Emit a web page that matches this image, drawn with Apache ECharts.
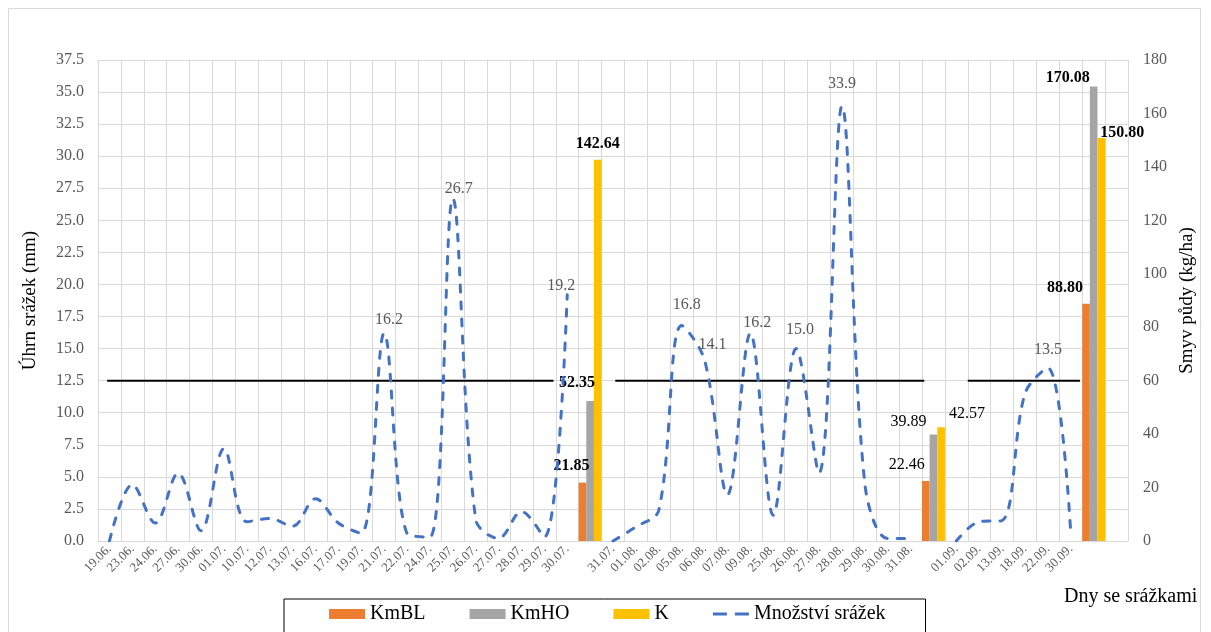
<!DOCTYPE html>
<html>
<head>
<meta charset="utf-8">
<title>Srážky a smyv půdy</title>
<script src="https://cdn.jsdelivr.net/npm/echarts@6/dist/echarts.min.js"></script>
<style>
  html, body { margin: 0; padding: 0; background: #ffffff; }
  #chart { width: 1211px; height: 632px; }
</style>
</head>
<body>
<div id="chart"></div>
<script>
// Rain days (blank slots hold the soil-loss bars of each period)
const categories = [
  '19.06.', '23.06.', '24.06.', '27.06.', '30.06.', '01.07.', '10.07.', '12.07.', '13.07.', '16.07.',
  '17.07.', '19.07.', '21.07.', '22.07.', '24.07.', '25.07.', '26.07.', '27.07.', '28.07.', '29.07.',
  '30.07.', '',
  '31.07.', '01.08.', '02.08.', '05.08.', '06.08.', '07.08.', '09.08.', '25.08.', '26.08.', '27.08.',
  '28.08.', '29.08.', '30.08.', '31.08.', '',
  '01.09.', '02.09.', '13.09.', '18.09.', '22.09.', '30.09.', '', ''
];

// Rainfall totals (mm)
const rainfall = [
  0, 4.4, 1.4, 5.3, 0.8, 7.2, 1.5, 1.75, 1.15, 3.3,
  1.4, 0.6, 16.2, 0.6, 0.3, 26.7, 1.7, 0.2, 2.3, 0.3,
  19.2, null,
  0, 1.1, 2.4, 16.8, 14.1, 3.6, 16.2, 2.0, 15.0, 5.3,
  33.9, 4.5, 0.2, 0.2, null,
  0, 1.5, 1.6, 11.5, 13.5, 0.6, null, null
];

// Soil loss (kg/ha) per period and variant
const soilLossKmBL = [21.85, 22.46, 88.80];
const soilLossKmHO = [52.35, 39.89, 170.08];
const soilLossK = [142.64, 42.57, 150.80];
// category slots where each period's bars stand
const barSlots = [21, 36, 43];

// Erosive rainfall threshold (mm) and the spans it is drawn over (in category units)
const rainThreshold = 12.5;
const thresholdSpans = [[0.4, 19.9], [22.6, 36.1], [38.0, 42.9]];

const leftTicks = { min: 0, max: 37.5, step: 2.5 };
const rightTicks = { min: 0, max: 180, step: 20 };

// ---- label placement (pixel nudges relative to the default 'top' spot) ----
const rainLabelShift = {
  12: [5, 0], 15: [6, 3], 20: [-6, 4], 25: [5, -8], 26: [8, -2],
  28: [7, 3], 30: [4, -6], 32: [0, -9], 41: [0, -5]
};
const barLabelShift = {
  KmBL: [[-11, -4], [-19, -3], [-21, -3]],
  KmHO: [[-13, -5], [-25, 0], [-26, 4]],
  K: [[0, -3], [26, 0], [21, 8]]
};
const barLabelWeight = ['bold', 'normal', 'bold'];

const FONT = "'Liberation Serif', 'Times New Roman', serif";

function barData(values, key) {
  const out = categories.map(() => null);
  values.forEach((v, i) => {
    out[barSlots[i]] = {
      value: v,
      label: { offset: barLabelShift[key][i], fontWeight: barLabelWeight[i] }
    };
  });
  return out;
}

const rainData = rainfall.map((v, i) => {
  const s = rainLabelShift[i];
  if (v === null) return null;
  if (!s) return { value: v, label: { show: false } };
  return { value: v, label: { show: true, offset: s } };
});

const thresholdSeries = thresholdSpans.map(span => ({
  type: 'line',
  xAxisIndex: 1,
  yAxisIndex: 0,
  symbol: 'none',
  silent: true,
  z: 1,
  lineStyle: { color: '#000000', width: 2 },
  data: span.map(x => [x, rainThreshold])
}));

const barLabel = {
  show: true,
  position: 'top',
  color: '#000000',
  fontFamily: FONT,
  fontSize: 16,
  formatter: p => p.value == null ? '' : Number(p.value).toFixed(2)
};

const option = {
  animation: false,
  backgroundColor: '#ffffff',
  textStyle: { fontFamily: FONT },
  grid: { left: 98, right: 83, top: 60, bottom: 91, containLabel: false },
  legend: {
    left: 284,
    top: 599,
    orient: 'horizontal',
    borderColor: '#000000',
    borderWidth: 1,
    padding: [5, 40, 30, 45],
    itemGap: 44,
    itemWidth: 36,
    itemHeight: 10,
    symbolKeepAspect: true,
    textStyle: { fontFamily: FONT, fontSize: 20, color: '#000000' },
    data: [
      { name: 'KmBL', icon: 'rect' },
      { name: 'KmHO', icon: 'rect' },
      { name: 'K', icon: 'rect' },
      { name: 'Množství srážek', icon: 'path://M0,0H14V3H0Z M22,0H36V3H22Z' }
    ]
  },
  xAxis: [
    {
      type: 'category',
      data: categories,
      boundaryGap: true,
      axisLine: { lineStyle: { color: '#d9d9d9', width: 1 } },
      axisTick: { show: false },
      axisLabel: {
        interval: 0,
        rotate: 45,
        fontFamily: FONT,
        fontSize: 13,
        color: '#595959',
        margin: 6
      },
      splitLine: { show: true, interval: 0, lineStyle: { color: '#d9d9d9', width: 1 } }
    },
    {
      type: 'value',
      min: 0,
      max: categories.length,
      show: false
    }
  ],
  yAxis: [
    {
      type: 'value',
      min: leftTicks.min,
      max: leftTicks.max,
      interval: leftTicks.step,
      name: 'Úhrn srážek (mm)',
      nameLocation: 'middle',
      nameGap: 58,
      nameTextStyle: { fontFamily: FONT, fontSize: 19, color: '#000000' },
      axisLine: { show: false },
      axisTick: { show: false },
      axisLabel: {
        fontFamily: FONT, fontSize: 16, color: '#595959', margin: 14,
        formatter: v => v.toFixed(1)
      },
      splitLine: { show: true, lineStyle: { color: '#d9d9d9', width: 1 } }
    },
    {
      type: 'value',
      min: rightTicks.min,
      max: rightTicks.max,
      interval: rightTicks.step,
      name: 'Smyv půdy (kg/ha)',
      nameLocation: 'middle',
      nameGap: 50,
      nameTextStyle: { fontFamily: FONT, fontSize: 19, color: '#000000' },
      axisLine: { show: false },
      axisTick: { show: false },
      axisLabel: { fontFamily: FONT, fontSize: 16, color: '#595959', margin: 15 },
      splitLine: { show: false }
    }
  ],
  series: [
    ...thresholdSeries,
    {
      name: 'KmBL',
      type: 'bar',
      yAxisIndex: 1,
      barGap: '0%',
      barCategoryGap: '0%',
      itemStyle: { color: '#ED7D31' },
      label: barLabel,
      data: barData(soilLossKmBL, 'KmBL'),
      z: 3
    },
    {
      name: 'KmHO',
      type: 'bar',
      yAxisIndex: 1,
      barGap: '0%',
      barCategoryGap: '0%',
      itemStyle: { color: '#A5A5A5' },
      label: barLabel,
      data: barData(soilLossKmHO, 'KmHO'),
      z: 3
    },
    {
      name: 'K',
      type: 'bar',
      yAxisIndex: 1,
      barGap: '0%',
      barCategoryGap: '0%',
      itemStyle: { color: '#FFC000' },
      label: barLabel,
      data: barData(soilLossK, 'K'),
      z: 3
    },
    {
      name: 'Množství srážek',
      type: 'line',
      yAxisIndex: 0,
      xAxisIndex: 0,
      symbol: 'circle',
      symbolSize: 0.1,
      showSymbol: true,
      smooth: 0.35,
      connectNulls: false,
      z: 4,
      itemStyle: { color: '#4472C4' },
      lineStyle: { color: '#4472C4', width: 3, type: [7, 10], cap: 'round' },
      label: {
        show: false,
        position: 'top',
        fontFamily: FONT,
        fontSize: 16,
        color: '#595959',
        formatter: p => Number(p.value).toFixed(1)
      },
      data: rainData
    }
  ],
  graphic: [
    {
      type: 'rect',
      silent: true,
      z: -10,
      shape: { x: 8.5, y: 8.5, width: 1192, height: 640 },
      style: { fill: null, stroke: '#d9d9d9', lineWidth: 1 }
    },
    {
      type: 'text',
      left: 1064,
      top: 587,
      style: { text: 'Dny se srážkami', font: "20px 'Liberation Serif', 'Times New Roman', serif", fill: '#000000' }
    }
  ]
};

const chart = echarts.init(document.getElementById('chart'), null, { renderer: 'canvas' });
chart.setOption(option);
</script>
</body>
</html>
